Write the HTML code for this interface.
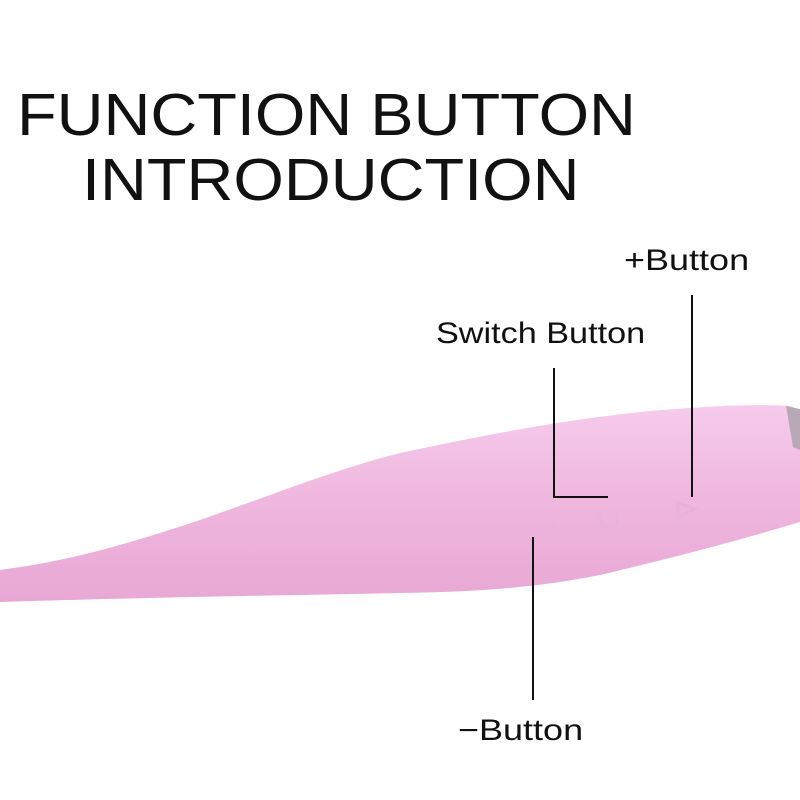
<!DOCTYPE html>
<html><head><style>
body{margin:0;width:800px;height:800px;background:#fff;overflow:hidden;position:relative;font-family:"Liberation Sans",sans-serif;}
.t{position:absolute;white-space:nowrap;color:#111;transform-origin:0 0;}
</style></head><body>
<svg width="800" height="800" style="position:absolute;left:0;top:0">
<defs>
<linearGradient id="g" x1="0" y1="0" x2="0" y2="1">
<stop offset="0" stop-color="#f6cbec"/><stop offset="0.5" stop-color="#efb6de"/><stop offset="1" stop-color="#e8a8d4"/>
</linearGradient>
</defs>
<path d="M0,570 C60,562 110,550 200,520 C280,492 340,468 400,453 C480,436 560,420 650,411 C720,405 760,404 790,406 L800,410 L800,522 C740,540 680,556 600,575 C540,587 480,592 400,593 C250,596 120,598 0,602 Z" fill="url(#g)"/>
<path d="M786,406 L800,409 L800,450 L793,447 Z" fill="#b9a9b8"/>
<g stroke="#111" stroke-width="2" fill="none">
<line x1="692" y1="295" x2="692" y2="497"/>
<polyline points="554,368 554,497 608,497"/>
<line x1="533" y1="537" x2="533" y2="700"/>
</g>
<g fill="none" stroke="#eab2da" stroke-width="3">
<path d="M555,525 L535,533 L555,540 Z"/>
<path d="M678,503 L695,509 L678,517 Z"/>
<path d="M603,512 a9,9 0 1 0 12,0"/>
</g>
</svg>
<div class="t" style="left:17px;top:81px;font-size:59px;transform:scaleX(1.1)">FUNCTION BUTTON</div>
<div class="t" style="left:82px;top:146px;font-size:59px;transform:scaleX(1.1)">INTRODUCTION</div>
<div class="t" style="left:624px;top:244px;font-size:30px;transform:scaleX(1.2)">+Button</div>
<div class="t" style="left:436px;top:317px;font-size:30px;transform:scaleX(1.14)">Switch Button</div>
<div class="t" style="left:458px;top:714px;font-size:30px;transform:scaleX(1.2)">−Button</div>
</body></html>
